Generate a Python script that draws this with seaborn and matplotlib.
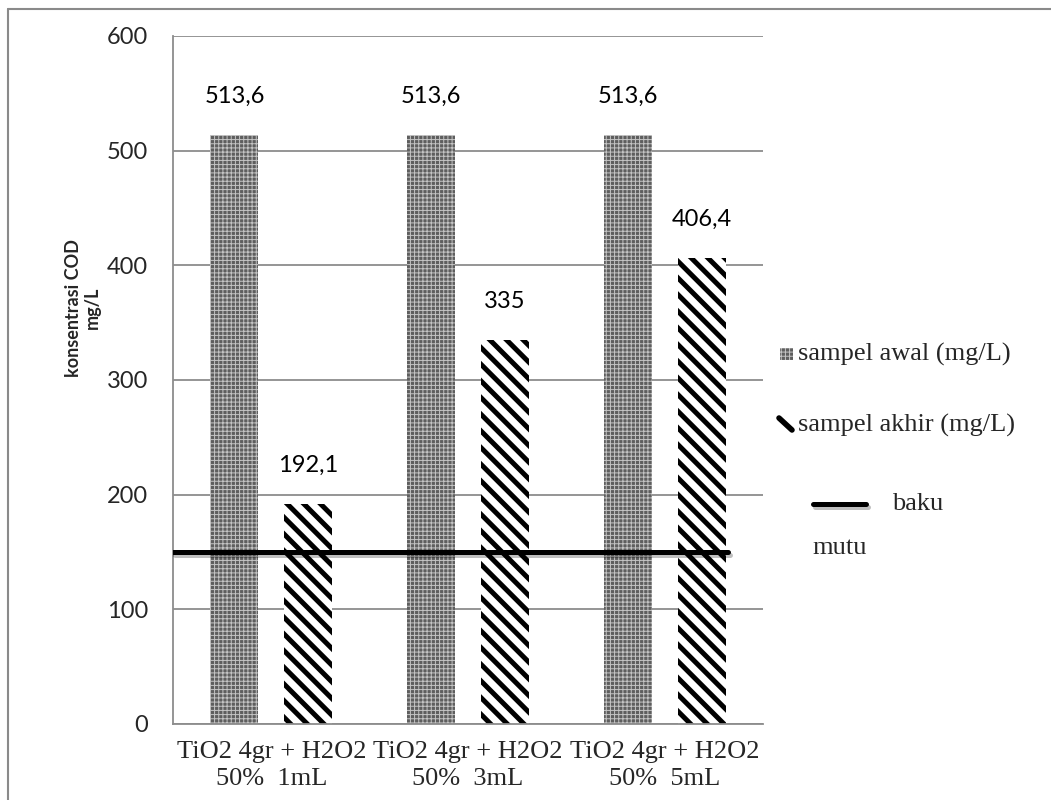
"""
COD concentration before/after TiO2 + H2O2 treatment vs. quality standard
"""
import pandas as pd
import seaborn as sns
import matplotlib.pyplot as plt
import matplotlib.patheffects as pe
from matplotlib.lines import Line2D
from matplotlib.patches import Rectangle


CATEGORIES = ['TiO2 4gr + H2O2\n50%  1mL',
              'TiO2 4gr + H2O2\n50%  3mL',
              'TiO2 4gr + H2O2\n50%  5mL']
SAMPEL_AWAL = [513.6, 513.6, 513.6]
SAMPEL_AKHIR = [192.1, 335, 406.4]
BAKU_MUTU = 150
SERIES = ['sampel awal (mg/L)', 'sampel akhir (mg/L)']
Y_TICKS = [0, 100, 200, 300, 400, 500, 600]

SANS = ['Lato', 'DejaVu Sans']
SERIF = ['Liberation Serif', 'DejaVu Serif']
GRID = '#8c8c8c'

sns.set_style("white")
plt.rcParams['font.family'] = SANS


def hatch_lw(patch, lw):
    if hasattr(patch, 'set_hatch_linewidth'):
        patch.set_hatch_linewidth(lw)
    else:
        plt.rcParams['hatch.linewidth'] = lw


df = pd.DataFrame({
    'kategori': CATEGORIES * 2,
    'seri': [SERIES[0]] * 3 + [SERIES[1]] * 3,
    'cod': SAMPEL_AWAL + SAMPEL_AKHIR,
})

fig = plt.figure(figsize=(10.51, 8), dpi=100)
ax = fig.add_axes([173 / 1051, 1 - 724 / 800, 590 / 1051, 688 / 800])

sns.barplot(data=df, x='kategori', y='cod', hue='seri', order=CATEGORIES,
            hue_order=SERIES, width=0.75, gap=0.35, palette=['#777777', 'white'],
            legend=False, ax=ax, zorder=2)

awal_bars, akhir_bars = ax.containers[0], ax.containers[1]
for bar in awal_bars:
    bar.set_facecolor('#5e5e5e')
    bar.set_edgecolor('#c4c4c4')
    bar.set_linewidth(0)
    bar.set_hatch('++++')
    hatch_lw(bar, 0.7)
for bar in akhir_bars:
    bar.set_facecolor('white')
    bar.set_edgecolor('black')
    bar.set_linewidth(0)
    bar.set_hatch('\\\\')
    hatch_lw(bar, 3.6)

for cont, vals in [(awal_bars, SAMPEL_AWAL), (akhir_bars, SAMPEL_AKHIR)]:
    ax.bar_label(cont, labels=[f"{v:g}".replace('.', ',') for v in vals],
                 padding=20, fontsize=17, color='black')

# baku mutu line
ax.axhline(BAKU_MUTU, xmin=0, xmax=0.94, color='black', lw=3.6, zorder=4,
           path_effects=[pe.SimpleLineShadow(offset=(1.5, -2), alpha=0.25),
                         pe.Normal()])

ax.set_ylim(0, 600)
ax.set_yticks(Y_TICKS)
ax.set_xlim(-0.5, 2.5)
ax.yaxis.grid(True, color=GRID, lw=1.3, zorder=0)
ax.set_axisbelow(True)
for side in ['top', 'right']:
    ax.spines[side].set_visible(False)
for side in ['left', 'bottom']:
    ax.spines[side].set_color(GRID)
    ax.spines[side].set_linewidth(1.3)

ax.tick_params(axis='y', length=0, pad=18, labelsize=17)
ax.tick_params(axis='x', which='major', length=0, pad=12)
ax.set_xticks([-0.5, 0.5, 1.5, 2.5], minor=True)
ax.tick_params(axis='x', which='minor', length=7, color=GRID, width=1.3)
for lab in ax.get_xticklabels():
    lab.set_fontfamily(SERIF)
    lab.set_fontsize(19)
    lab.set_linespacing(1.3)

ax.set_xlabel('')
ax.set_ylabel('konsentrasi COD\nmg/L', fontsize=13, fontweight='bold',
              linespacing=1.15)
ax.yaxis.set_label_coords(-0.122, 0.605)

# legend, drawn by hand in figure pixels
def px(x, y):
    return x / 1051, 1 - y / 800

leg_awal = Rectangle(px(780, 360), 13 / 1051, 12 / 800, transform=fig.transFigure,
                     facecolor='#5e5e5e', edgecolor='#c4c4c4', lw=0, hatch='++++')
hatch_lw(leg_awal, 0.7)
fig.add_artist(leg_awal)
fig.text(*px(798, 354), SERIES[0], family=SERIF, fontsize=19, va='center')

leg_akhir = Line2D([779 / 1051, 792 / 1051], [1 - 418 / 800, 1 - 430 / 800],
                   transform=fig.transFigure, color='black', lw=4,
                   solid_capstyle='round')
fig.add_artist(leg_akhir)
fig.text(*px(798, 425), SERIES[1], family=SERIF, fontsize=19, va='center')

leg_baku = Line2D([813 / 1051, 866 / 1051], [1 - 504 / 800] * 2,
                  transform=fig.transFigure, color='black', lw=3.6,
                  path_effects=[pe.SimpleLineShadow(offset=(1.5, -2), alpha=0.25),
                                pe.Normal()])
fig.add_artist(leg_baku)
fig.text(*px(892, 504), 'baku', family=SERIF, fontsize=19, va='center')
fig.text(*px(812, 548), 'mutu', family=SERIF, fontsize=19, va='center')

# outer chart frame (top and left edges visible)
fig.add_artist(Line2D([8 / 1051, 1], [1 - 8.5 / 800] * 2,
                      transform=fig.transFigure, color='#8a8a8a', lw=1.5))
fig.add_artist(Line2D([8 / 1051] * 2, [0, 1 - 8.5 / 800],
                      transform=fig.transFigure, color='#8a8a8a', lw=1.5))

fig.savefig('out.png', dpi=100)
